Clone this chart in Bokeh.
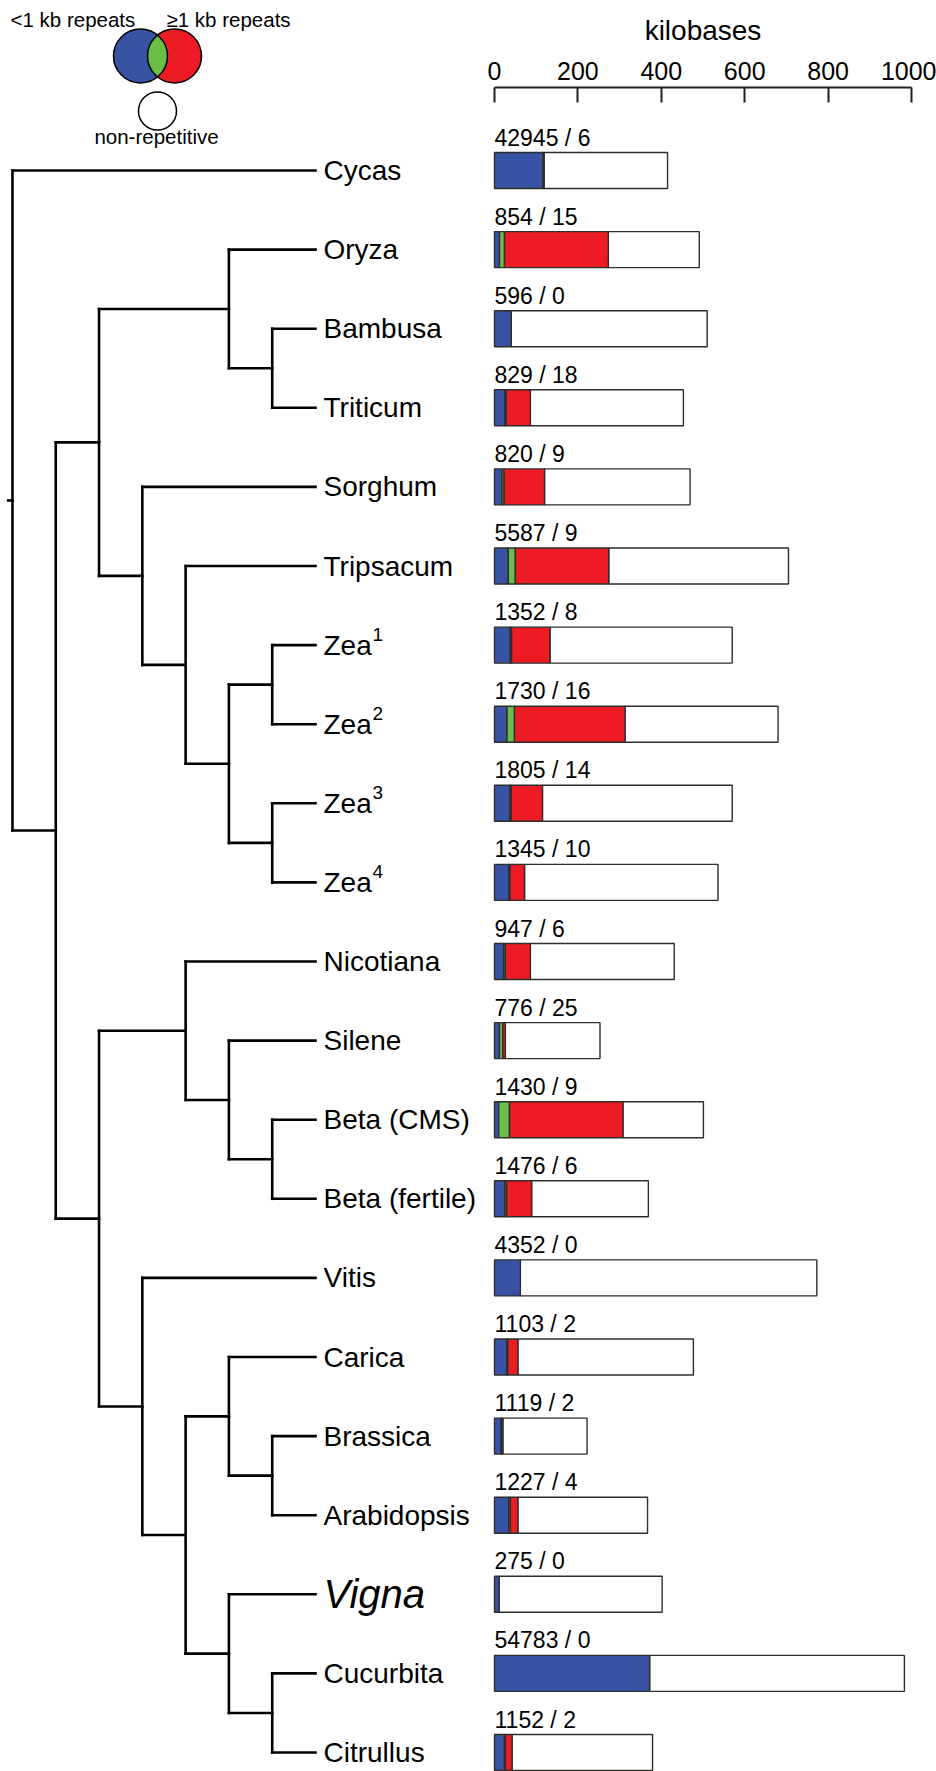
import numpy as np
from bokeh.plotting import figure
from bokeh.models import Range1d, LinearAxis, FixedTicker, ColumnDataSource
from bokeh.core.properties import value
from bokeh.embed import file_html
from bokeh.resources import INLINE

# ---------------- data ----------------
species = ["Cycas", "Oryza", "Bambusa", "Triticum", "Sorghum", "Tripsacum",
           "Zea", "Zea", "Zea", "Zea", "Nicotiana", "Silene", "Beta (CMS)",
           "Beta (fertile)", "Vitis", "Carica", "Brassica", "Arabidopsis",
           "Vigna", "Cucurbita", "Citrullus"]
superscript = ["", "", "", "", "", "", "1", "2", "3", "4", "", "", "", "",
               "", "", "", "", "", "", ""]
italic_species = ["Vigna"]
n_short_repeats = [42945, 854, 596, 829, 820, 5587, 1352, 1730, 1805, 1345, 947,
                   776, 1430, 1476, 4352, 1103, 1119, 1227, 275, 54783, 1152]
n_long_repeats = [6, 15, 0, 18, 9, 9, 8, 16, 14, 10, 6, 25, 9, 6, 0, 2, 2, 4, 0, 0, 2]
kb_short_only = [116, 12, 40, 25, 18, 33, 38, 30, 37, 35, 22, 12, 10, 25, 62, 30,
                 16, 34, 11, 372, 24]
kb_both = [3, 12, 0, 3, 5, 17, 3, 18, 3, 2, 4, 8, 26, 4, 0, 2, 2, 4, 0, 0, 2]
kb_long_only = [0, 249, 0, 58, 97, 224, 92, 265, 75, 35, 60, 6, 272, 60, 0, 24, 2,
                18, 0, 0, 16]
kb_total = [415, 491, 510, 453, 469, 705, 570, 680, 570, 536, 431, 253, 501, 369,
            773, 477, 222, 367, 402, 983, 379]
axis_ticks = [0, 200, 400, 600, 800, 1000]
axis_title = "kilobases"
legend_labels = ["<1 kb repeats", "≥1 kb repeats", "non-repetitive"]
# cladogram (leaf indices into species)
monocots = ((1, (2, 3)), (4, (5, ((6, 7), (8, 9)))))
eudicots = ((10, (11, (12, 13))), (14, ((15, (16, 17)), (18, (19, 20)))))
tree = (0, (monocots, eudicots))

# ---------------- colours / layout ----------------
BLUE, GREEN, RED, WHITE = "#3953a4", "#6abd45", "#ed1c24", "#ffffff"
EDGE = "#2e2e2a"
FONT = "Liberation Sans"
W, H = 936, 1771
KB_PX = 0.417             # px per kb
KB0 = 494                 # px of 0 kb
ROW0, ROW_PX = 170, 79.1  # px of first row, px per row
TIP, STEP = 315, 43.29    # px of leaf tips, px per node height

p = figure(width=W, height=H, output_backend="svg", toolbar_location=None,
           x_range=Range1d(0, W), y_range=Range1d(H, 0),
           x_axis_type=None, y_axis_type=None, min_border=0,
           outline_line_color=None)
p.grid.visible = False
p.extra_x_ranges = {
    "kb": Range1d((0 - KB0) / KB_PX, (W - KB0) / KB_PX),
    "tree": Range1d(TIP / STEP, (TIP - W) / STEP),
}
p.extra_y_ranges = {"row": Range1d((H - ROW0) / ROW_PX, (0 - ROW0) / ROW_PX)}

# ---------------- tree ----------------
xs0, xs1, ys0, ys1 = [], [], [], []


def walk(node):
    if isinstance(node, int):
        return 0, float(node)
    res = [walk(c) for c in node]
    h = 1 + max(r[0] for r in res)
    ys = [r[1] for r in res]
    xs0.append(h); xs1.append(h); ys0.append(min(ys)); ys1.append(max(ys))
    for ch, cy in res:
        xs0.append(h); xs1.append(ch); ys0.append(cy); ys1.append(cy)
    return h, sum(ys) / len(ys)


root_h, root_y = walk(tree)
xs0.append(root_h); xs1.append(root_h + 0.1); ys0.append(root_y); ys1.append(root_y)
p.segment(x0=xs0, y0=ys0, x1=xs1, y1=ys1, x_range_name="tree", y_range_name="row",
          line_color="black", line_width=2.6, line_cap="square")

rows = list(range(len(species)))
reg = [i for i in rows if species[i] not in italic_species]
ita = [i for i in rows if species[i] in italic_species]
lab_x = -8 / STEP
p.text(x=[lab_x] * len(reg), y=reg, text=[species[i] for i in reg],
       x_range_name="tree", y_range_name="row", text_font=value(FONT),
       text_font_size="28px", text_baseline="middle", text_color="black")
p.text(x=[lab_x] * len(ita), y=ita, text=[species[i] for i in ita],
       x_range_name="tree", y_range_name="row", text_font=value(FONT),
       text_font_size="40px", text_font_style="italic", text_baseline="middle",
       text_color="black")
sup = [i for i in rows if superscript[i]]
p.text(x=[lab_x] * len(sup), y=sup, text=[superscript[i] for i in sup],
       x_range_name="tree", y_range_name="row", text_font=value(FONT),
       text_font_size="19px", text_baseline="middle", x_offset=49, y_offset=-11,
       text_color="black")

# ---------------- bars ----------------
bar_h = 36 / ROW_PX
segments = []
for i in rows:
    a = kb_short_only[i]
    b = a + kb_both[i]
    c = b + kb_long_only[i]
    segments.append((i, c, kb_total[i], WHITE))
    segments.append((i, 0, a, BLUE))
    if b > a:
        segments.append((i, a, b, GREEN))
    if c > b:
        segments.append((i, b, c, RED))
bsrc = ColumnDataSource(dict(y=[s[0] for s in segments], left=[s[1] for s in segments],
                             right=[s[2] for s in segments], color=[s[3] for s in segments]))
p.hbar(y="y", left="left", right="right", height=bar_h, source=bsrc,
       fill_color="color", line_color=EDGE, line_width=1.4,
       x_range_name="kb", y_range_name="row")

p.text(x=[0] * len(rows), y=[i - bar_h / 2 for i in rows],
       text=[f"{s} / {l}" for s, l in zip(n_short_repeats, n_long_repeats)],
       x_range_name="kb", y_range_name="row", text_font=value(FONT),
       text_font_size="23px", text_baseline="bottom", y_offset=-2,
       text_color="black")

# ---------------- axis ----------------
ax = LinearAxis(x_range_name="kb", ticker=FixedTicker(ticks=axis_ticks),
                bounds=(0, 1000), fixed_location=87)
ax.major_tick_in = 15
ax.major_tick_out = 0
ax.minor_tick_line_color = None
ax.axis_line_width = 2
ax.major_tick_line_width = 2
ax.axis_line_color = "#231f20"
ax.major_tick_line_color = "#231f20"
ax.major_label_text_font = FONT
ax.major_label_text_font_size = "25px"
ax.major_label_text_color = "black"
ax.major_label_standoff = 8
p.add_layout(ax, "above")
p.text(x=[500], y=[30], text=[axis_title], x_range_name="kb",
       text_font=value(FONT), text_font_size="28px", text_align="center",
       text_baseline="middle", text_color="black")

# ---------------- legend (Venn key) ----------------
r_big = 27
cb, cr, cy = 140, 174, 55.5
p.circle(x=[cb], y=[cy], radius=r_big, fill_color=BLUE, line_color=None)
p.circle(x=[cr], y=[cy], radius=r_big, fill_color=RED, line_color=None)
d = (cr - cb) / 2
half = np.arccos(d / r_big)
t = np.linspace(np.pi - half, np.pi + half, 40)
t2 = np.linspace(half, -half, 40)
lens_x = np.concatenate([cr + r_big * np.cos(t), cb + r_big * np.cos(t2)])
lens_y = np.concatenate([cy + r_big * np.sin(t), cy - r_big * np.sin(t2)])
p.patch(x=lens_x, y=lens_y, fill_color=GREEN, line_color=None)
p.circle(x=[cb, cr], y=[cy, cy], radius=r_big, fill_color=None, line_color="black",
         line_width=1.5)
p.circle(x=[157], y=[110.5], radius=19, fill_color="white", line_color="black",
         line_width=1.5)
p.text(x=[10, 166], y=[19, 19], text=legend_labels[:2],
       text_font=value(FONT), text_font_size="20.5px", text_baseline="middle",
       text_color="black")
p.text(x=[156], y=[136], text=legend_labels[2:], text_font=value(FONT),
       text_font_size="20.5px", text_baseline="middle", text_align="center",
       text_color="black")

open("out.html", "w").write(file_html(p, INLINE))
